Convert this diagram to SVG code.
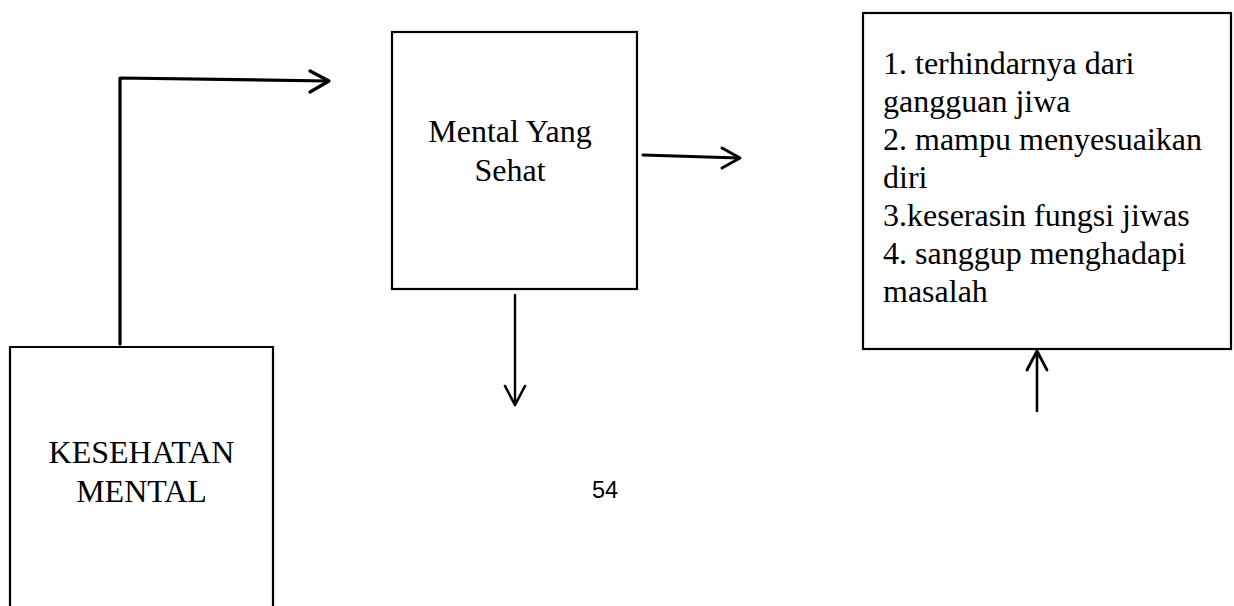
<svg xmlns="http://www.w3.org/2000/svg" width="1234" height="606" viewBox="0 0 1234 606">
<style>
.box{fill:#fff;stroke:#000;stroke-width:2.2}
.t{font-family:"Liberation Serif","Times New Roman",serif;font-size:32px;fill:#000}
.c{stroke:#000;fill:none;stroke-linecap:round;stroke-linejoin:round}
.pg{font-family:"Liberation Sans",Arial,sans-serif;font-size:23.5px;fill:#000}
</style>
<rect width="1234" height="606" fill="#fff"/>
<g id="connectors">
<path class="c" d="M120,344 V78 L328,81" stroke-width="3.2"/>
<path class="c" d="M310,71 L329,81 L310,92" stroke-width="3.2"/>
<path class="c" d="M643,155 L739,158" stroke-width="3"/>
<path class="c" d="M722,148 L740,158 L722,168" stroke-width="3"/>
<path class="c" d="M515,295 V405" stroke-width="2.4"/>
<path class="c" d="M505,386 L515,405 L525,386" stroke-width="2.6"/>
<path class="c" d="M1037,411 V351" stroke-width="2.6"/>
<path class="c" d="M1027,370 L1037,351 L1047,370" stroke-width="2.8"/>
</g>
<g id="node-kesehatan">
<path class="box" d="M10,610 V347 H273 V610"/>
<text class="t" x="141.5" y="463" text-anchor="middle">KESEHATAN</text>
<text class="t" x="141.5" y="502" text-anchor="middle">MENTAL</text>
</g>
<g id="node-mental-sehat">
<rect class="box" x="392" y="32" width="245" height="257"/>
<text class="t" x="510" y="142" text-anchor="middle">Mental Yang</text>
<text class="t" x="510" y="181" text-anchor="middle">Sehat</text>
</g>
<g id="node-ciri">
<rect class="box" x="863" y="13" width="368" height="336"/>
<text class="t" x="883" y="74">1. terhindarnya dari</text>
<text class="t" x="883" y="112">gangguan jiwa</text>
<text class="t" x="883" y="150">2. mampu menyesuaikan</text>
<text class="t" x="883" y="188">diri</text>
<text class="t" x="883" y="226">3.keserasin fungsi jiwas</text>
<text class="t" x="883" y="264">4. sanggup menghadapi</text>
<text class="t" x="883" y="302">masalah</text>
</g>
<text class="pg" x="592" y="498">54</text>
</svg>
